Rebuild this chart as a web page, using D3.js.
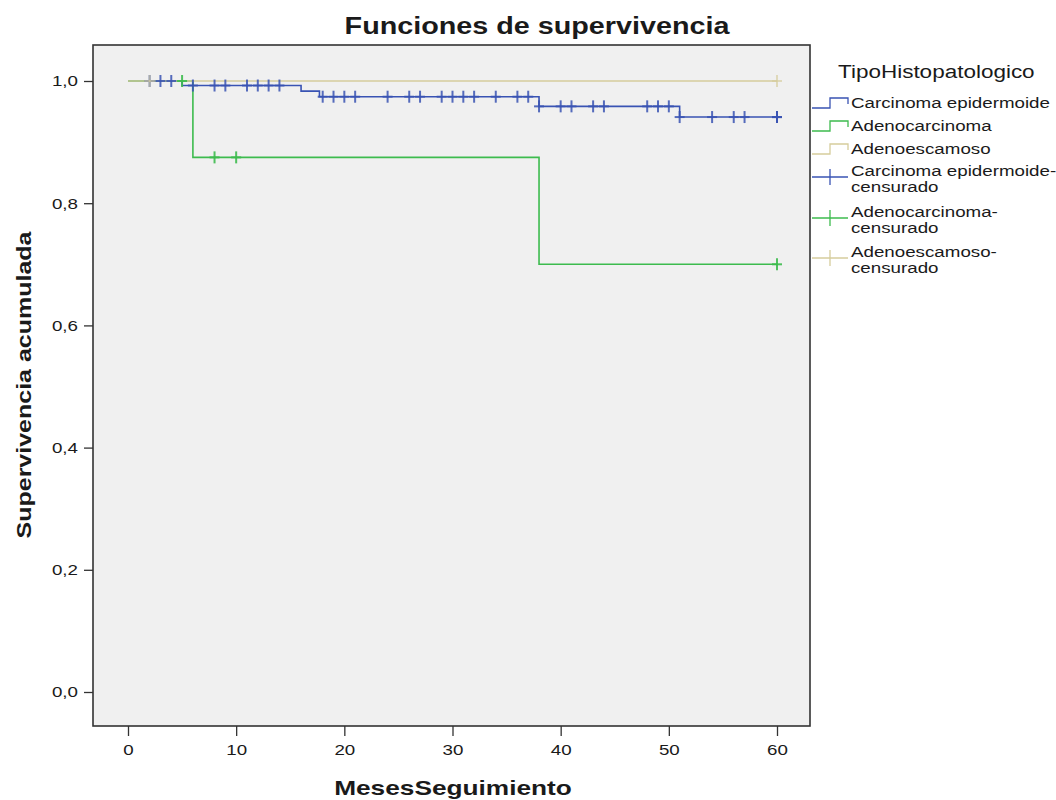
<!DOCTYPE html>
<html>
<head>
<meta charset="utf-8">
<script src="https://cdn.jsdelivr.net/npm/d3@7"></script>
<style>
  body { margin: 0; background: #fff; }
  text { font-family: "Liberation Sans", Arial, sans-serif; fill: #1a1a1a; }
</style>
</head>
<body>
<svg id="chart" width="1056" height="800"></svg>
<script>
// --- data ---
const xTicks = [0, 10, 20, 30, 40, 50, 60];
const yTicks = [0, 0.2, 0.4, 0.6, 0.8, 1.0];

// Carcinoma epidermoide
const epiStepTimes = [5, 16, 17.7, 38, 51];
const epiStepLevels = [0.9926, 0.9835, 0.9743, 0.9585, 0.941];
const epiCensored = [2, 3, 4, 6, 8, 9, 11, 12, 13, 14, 18, 19, 20, 21, 24, 26, 27, 29, 30, 31, 32,
    34, 36, 37, 38, 40, 41, 43, 44, 48, 49, 50, 51, 54, 56, 57, 60, 60, 60];

// Adenocarcinoma
const adeStepTimes = [6, 38];
const adeStepLevels = [0.875, 0.70];
const adeCensored = [5, 8, 10, 60];

// Adenoescamoso
const escStepTimes = [];
const escStepLevels = [];
const escCensored = [2, 60];

const groups = [
    {name: "Carcinoma epidermoide", times: epiStepTimes, levels: epiStepLevels, cens: epiCensored, color: "#3953b3", censOpacity: 0.85},
    {name: "Adenocarcinoma", times: adeStepTimes, levels: adeStepLevels, cens: adeCensored, color: "#3dbb4e", censOpacity: 0.9},
    {name: "Adenoescamoso", times: escStepTimes, levels: escStepLevels, cens: escCensored, color: "#d6cd9c", censOpacity: 0.65}
];
const endTime = 60;

const svg = d3.select("#chart");
const SX = 1.25; // the original's text is stretched sideways

function stretchText(parent, x, y, str, size, weight, anchor, rot) {
    let g = parent.append("g")
        .attr("transform", "translate(" + x + "," + y + ")" + (rot ? " rotate(" + rot + ")" : "") + " scale(" + SX + ",1)");
    g.append("text")
        .attr("text-anchor", anchor || "start")
        .style("font-size", size + "px")
        .style("font-weight", weight || "normal")
        .text(str);
    return g;
}

// plot frame
const frame = {left: 93, top: 45, right: 810, bottom: 726};

let x = d3.scaleLinear().domain([0, 60]).range([128, 777]);
let y = d3.scaleLinear().domain([0, 1]).range([692, 81]);

svg.append("rect")
    .attr("x", frame.left).attr("y", frame.top)
    .attr("width", frame.right - frame.left).attr("height", frame.bottom - frame.top)
    .attr("fill", "#f0f0f0")
    .attr("stroke", "#333").attr("stroke-width", 1.6);

// axes
let yAxis = svg.append("g")
    .attr("transform", "translate(" + frame.left + ",0)")
    .call(d3.axisLeft(y).tickValues(yTicks).tickSize(9)
        .tickFormat(d => d3.format(".1f")(d).replace(".", ",")));
let xAxis = svg.append("g")
    .attr("transform", "translate(0," + frame.bottom + ")")
    .call(d3.axisBottom(x).tickValues(xTicks).tickSize(10));

[yAxis, xAxis].forEach(a => {
    a.select(".domain").remove();
    a.selectAll("line").attr("stroke", "#333").attr("stroke-width", 1.3);
    a.selectAll("text").style("font-size", "15px").attr("fill", "#1a1a1a")
        .attr("font-family", null);
});
yAxis.selectAll("text").attr("x", -12).attr("transform", "scale(" + SX + ",1)");
xAxis.selectAll("text").attr("y", 18).attr("transform", "scale(" + SX + ",1)");

// KM curves
const line = d3.line().curve(d3.curveStepAfter).x(d => x(d[0])).y(d => y(d[1]));

function kmPoints(g) {
    let pts = [[0, 1]];
    g.times.forEach((t, i) => pts.push([t, g.levels[i]]));
    pts.push([endTime, pts[pts.length - 1][1]]);
    return pts;
}
function survAt(g, t) {
    let s = 1;
    g.times.forEach((tt, i) => { if (tt <= t) s = g.levels[i]; });
    return s;
}

groups.forEach(g => {
    svg.append("path")
        .attr("d", line(kmPoints(g)))
        .attr("fill", "none")
        .attr("stroke", g.color)
        .attr("stroke-width", 1.6);
});

groups.forEach(g => {
    let m = svg.append("g").selectAll("g")
        .data(g.cens)
        .enter()
        .append("g")
        .attr("transform", t => "translate(" + x(t) + "," + y(survAt(g, t)) + ")")
        .attr("stroke", g.color)
        .attr("stroke-width", 2)
        .attr("stroke-opacity", g.censOpacity);
    m.append("line").attr("x1", 0).attr("x2", 0).attr("y1", -6).attr("y2", 6);
    m.append("line").attr("x1", -5).attr("x2", 5).attr("y1", 0).attr("y2", 0);
});

// titles
stretchText(svg, 537, 34, "Funciones de supervivencia", 23, "bold", "middle");
stretchText(svg, 453, 795, "MesesSeguimiento", 21, "bold", "middle");
stretchText(svg, 31, 385, "Supervivencia acumulada", 20, "bold", "middle", -90);

// legend
let legend = svg.append("g");
stretchText(legend, 838, 78, "TipoHistopatologico", 18, "normal", "start");

const legendRows = [108, 131, 154];
groups.forEach((g, i) => {
    let yy = legendRows[i];
    legend.append("path")
        .attr("d", "M812," + yy + "H830V" + (yy - 10) + "H848V" + (yy - 4))
        .attr("fill", "none").attr("stroke", g.color).attr("stroke-width", 1.3);
    stretchText(legend, 851, yy, g.name, 15, "normal", "start");
});

const censRows = [177, 218, 258];
groups.forEach((g, i) => {
    let yy = censRows[i];
    legend.append("line").attr("x1", 812).attr("x2", 848).attr("y1", yy).attr("y2", yy)
        .attr("stroke", g.color).attr("stroke-width", 1.3);
    legend.append("line").attr("x1", 830).attr("x2", 830).attr("y1", yy - 8).attr("y2", yy + 8)
        .attr("stroke", g.color).attr("stroke-width", 1.3);
    stretchText(legend, 851, yy - 1, g.name + "-", 15, "normal", "start");
    stretchText(legend, 851, yy + 15, "censurado", 15, "normal", "start");
});
</script>
</body>
</html>
